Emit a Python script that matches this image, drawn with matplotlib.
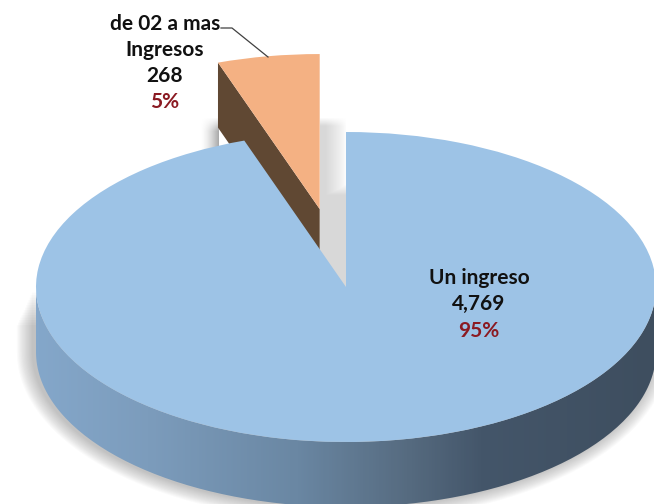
import numpy as np
import matplotlib
matplotlib.use('Agg')
import matplotlib.pyplot as plt
from matplotlib.colors import LinearSegmentedColormap
from matplotlib.patches import PathPatch, Polygon
from matplotlib.path import Path

plt.rcParams['font.family'] = ['Lato', 'DejaVu Sans']

# datos
categorias = ['de 02 a mas\nIngresos', 'Un ingreso']
valores = [268, 4769]
porcentajes = ['5%', '95%']
separacion = [0.51, 0]

W, H = 654, 504
CX, CY, RX, RY = 346, 287, 310, 155
DEPTH = 65 / RY


def px(x, y):
    # pixel de la imagen -> unidades de la torta
    return (x - CX) / RX, (CY - y) / RY


fig = plt.figure(figsize=(W / 100, H / 100), dpi=100, facecolor='white')
ax = fig.add_axes([0, 0, 1, 1])

wedges, _ = ax.pie(valores, explode=separacion, startangle=90, colors=['#f4b183', '#9dc3e6'],
                   wedgeprops={'linewidth': 0})
ax.set_aspect('auto')
x0, y0 = px(0, H)
x1, y1 = px(W, 0)

wedges[0].set_zorder(8)
wedges[1].set_zorder(6)
sl = wedges[0]

# sombra difusa de la base
t = np.radians(np.linspace(180, 360, 150))
for k in range(14, 0, -1):
    ex = 1 + k * 1.15 / RX
    ey = 1 + k * 1.0 / RY
    arriba = -0.02 - k * 2.5 / RY
    xs = np.r_[-ex, ex * np.cos(t), ex] - 3 / RX
    ys = np.r_[arriba, ey * np.sin(t) - DEPTH, arriba]
    ax.add_patch(Polygon(np.c_[xs, ys], closed=True, fc='#555555', ec='none', alpha=0.028, zorder=2))

# pared lateral con degradado
xs = np.r_[np.cos(t), np.cos(t[::-1])]
ys = np.r_[np.sin(t) - DEPTH, np.sin(t[::-1])]
side = PathPatch(Path(np.c_[xs, ys]), transform=ax.transData, fc='none', ec='none')
ax.add_patch(side)
cm = LinearSegmentedColormap.from_list('lado', [(0, '#84a7ca'), (0.18, '#7c9cbc'), (0.42, '#6a87a3'),
                                                (0.6, '#566b80'), (0.72, '#44566a'), (1, '#3e4e5f')])
im = ax.imshow(np.linspace(0, 1, 300)[None, :], cmap=cm, extent=(-1, 1, -2, 1), aspect='auto', zorder=3)
im.set_clip_path(side)

# hueco: pared gris interior
th2 = np.radians(sl.theta2)
xa, ya = sl.center
gy_top = px(0, 117)[1]
yy, xx = np.mgrid[0:1:170j, 0:1:30j]
fade_y = np.clip(yy / 0.05, 0, 1)
fade_x = np.clip((1 - xx) / 0.8, 0, 1)
solid = np.clip((yy - 0.39) / 0.07, 0, 1)
rgba = np.zeros((170, 30, 4))
rgba[..., :3] = 0.85
rgba[..., 3] = np.maximum(fade_x ** 0.8 * fade_y, solid)
ax.imshow(rgba, extent=(xa, 0, 0, gy_top), origin='upper', aspect='auto', zorder=4)

# sombra a la izquierda de la porcion
lx = xa + np.cos(th2)
ly = ya + np.sin(th2)
g = np.zeros((40, 40, 4))
g[..., :3] = 0.55
xg = np.linspace(0, 1, 40)
yg = np.linspace(0, 1, 40)[:, None]
g[..., 3] = 0.75 * xg ** 1.6 * np.clip(yg / 0.3, 0, 1)
ax.imshow(g, extent=(lx - 18 / RX, lx, ly - 100 / RY, ly - 54 / RY), origin='upper', aspect='auto', zorder=2)

# pared de la porcion separada
ax.add_patch(Polygon([(lx, ly), (xa, ya), (xa, ya - DEPTH), (lx, ly - DEPTH)], closed=True,
                     fc='#604833', ec='none', zorder=5))

# etiquetas
txt = dict(ha='center', va='center', fontsize=15, fontweight='bold', zorder=10)
lineas = categorias[0].split('\n')
ax.text(*px(165, 24), lineas[0], color='#111111', **txt)
ax.text(*px(165, 50), lineas[1], color='#111111', **txt)
ax.text(*px(165, 76), f'{valores[0]:,}', color='#111111', **txt)
ax.text(*px(165, 102), porcentajes[0], color='#8b1a22', **txt)
ax.text(*px(479, 278), categorias[1], color='#111111', **txt)
ax.text(*px(479, 304), f'{valores[1]:,}', color='#111111', **txt)
ax.text(*px(479, 331), porcentajes[1], color='#8b1a22', **txt)

# linea guia
guia = np.array([px(221, 28), px(232, 28), px(268, 57)])
ax.plot(guia[:, 0], guia[:, 1], color='#404040', lw=0.9, zorder=9)

ax.set_xlim(x0, x1)
ax.set_ylim(y0, y1)
ax.axis('off')
fig.savefig('out.png', dpi=100)
